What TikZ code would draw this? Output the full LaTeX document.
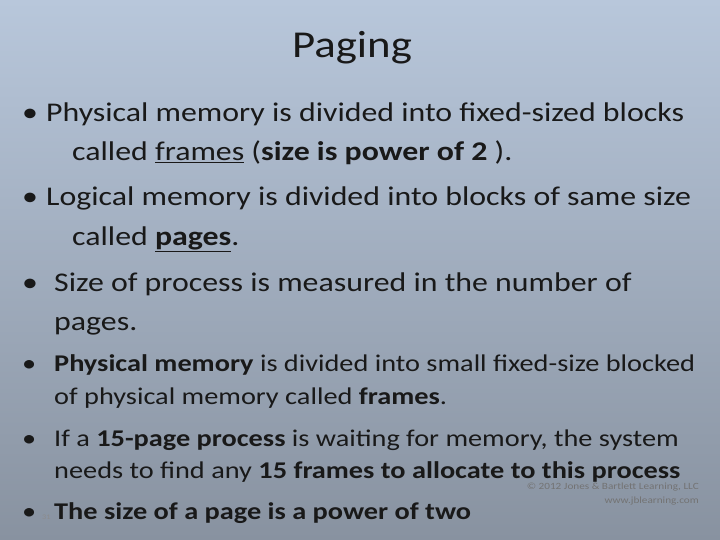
\documentclass[tikz,border=0pt]{standalone}
\usepackage{fontspec}
\setmainfont{Carlito}[FakeStretch=1.18]
\usetikzlibrary{positioning}
\begin{document}
\begin{tikzpicture}[x=1pt,y=1pt,
  big/.style={anchor=base west,inner sep=0pt,font=\fontsize{27}{30}\selectfont,text=black!90},
  small/.style={anchor=base west,inner sep=0pt,font=\fontsize{24}{27}\selectfont,text=black!90},
  copy/.style={anchor=base east,inner sep=0pt,font=\fontsize{9.5}{10}\selectfont,text=black!55}]
\useasboundingbox (0,0) rectangle (720,-540);
\shade[top color={rgb,255:red,184;green,199;blue,219},bottom color={rgb,255:red,136;green,146;blue,160}] (0,0) rectangle (720,-540);
\node[anchor=base,inner sep=0pt,font=\fontsize{38}{40}\selectfont,text=black!90] (title) at (352,-58) {Paging};
\node[big] (b1) at (22,-122) {•};
\node[big] (l1) at (46,-122) {Physical memory is divided into fixed-sized blocks};
\node[big] (l2) at (72,-161) {called \underline{frames} (\textbf{size is power of 2} ).};
\node[big] (b2) at (22,-206) {•};
\node[big] (l3) at (46,-206) {Logical memory is divided into blocks of same size};
\node[big] (l4) at (72,-245) {called \underline{\textbf{pages}}.};
\node[big] (b3) at (22,-291) {•};
\node[big] (l5) at (54,-291) {Size of process is measured in the number of};
\node[big] (l6) at (54,-330) {pages.};
\node[small] (b4) at (22,-371) {•};
\node[small] (m1) at (54,-371) {\textbf{Physical memory} is divided into small fixed-size blocked};
\node[small] (m2) at (54,-404) {of physical memory called \textbf{frames}.};
\node[small] (b5) at (22,-446) {•};
\node[small] (m3) at (54,-446) {If a \textbf{15-page process} is waiting for memory, the system};
\node[small] (m4) at (54,-478) {needs to find any \textbf{15 frames to allocate to this process}};
\node[small] (b6) at (22,-519) {•};
\node[anchor=base west,inner sep=0pt,font=\fontsize{7}{8}\selectfont,text=black!45] (num) at (42,-519) {31};
\node[small] (m5) at (54,-519) {\textbf{The size of a page is a power of two}};
\node[copy] (c1) at (699,-489) {© 2012 Jones \& Bartlett Learning, LLC};
\node[copy] (c2) at (699,-503) {www.jblearning.com};
\end{tikzpicture}
\end{document}
